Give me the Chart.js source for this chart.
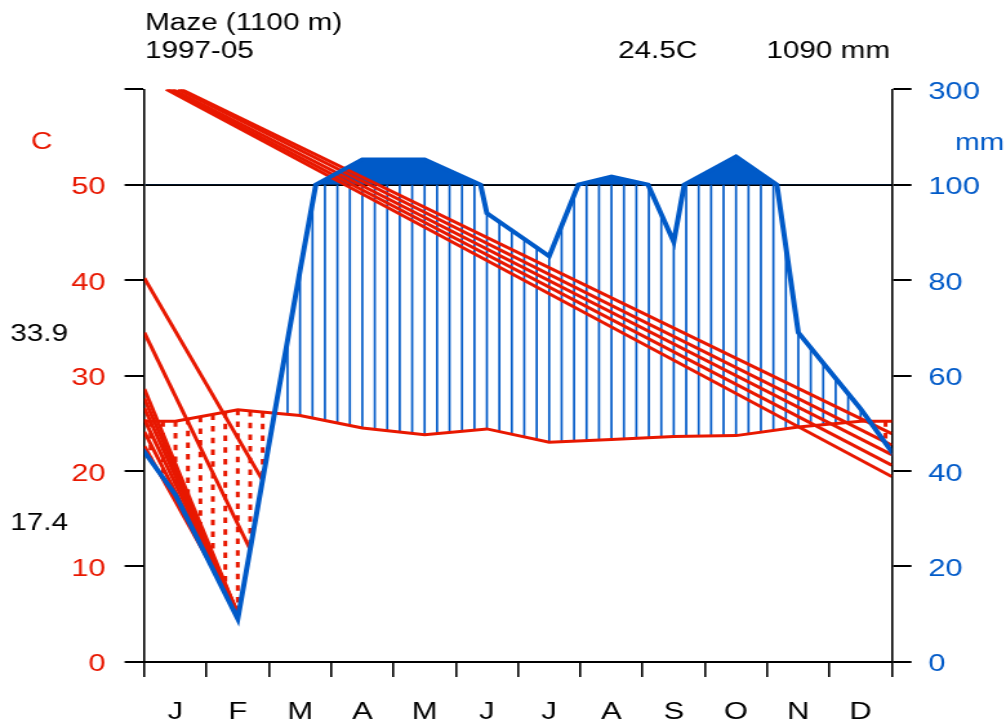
<!DOCTYPE html>
<html>
<head>
<meta charset="utf-8">
<script src="https://cdn.jsdelivr.net/npm/chart.js@4/dist/chart.umd.min.js"></script>
<style>
  html, body { margin: 0; padding: 0; background: #fff; overflow: hidden; }
  #wl { display: block; }
</style>
</head>
<body>
<!-- drawn narrow and stretched sideways, the way the original image was -->
<canvas id="wl" width="780" height="724" style="width:1006px;height:724px"></canvas>
<script>
// monthly means
const months = ["J", "F", "M", "A", "M", "J", "J", "A", "S", "O", "N", "D"];
const tempC = [25.2, 26.4, 25.8, 24.5, 23.8, 24.4, 23.0, 23.3, 23.6, 23.7, 24.6, 25.2];
const precMm = [35, 9, 82, 153, 153, 94, 85, 117, 88, 159, 69, 53];
const station = "Maze (1100 m)";
const period = "1997-05";
const meanTemp = "24.5C";
const totalPrec = "1090 mm";
const sideMax = "33.9";
const sideMin = "17.4";
const leftTicks = [0, 10, 20, 30, 40, 50, 60];
const rightTickLabels = ["0", "20", "40", "60", "80", "100", "300"];

// stray red strokes of the original plot: [x0, y0, x1, y1] in months / deg C
const streakLong = [
    [0.59, 60, 12, 23.9],
    [0.54, 60, 12, 22.7],
    [0.45, 60, 12, 21.7],
    [0.39, 60, 12, 20.6],
    [0.35, 60, 12, 19.4]
];
const streakLeft = [
    [0, 40.2, 1.89, 19.1],
    [0, 34.5, 1.69, 11.9],
    [0, 28.6, 1.47, 5.5],
    [0, 27.6, 1.47, 5.5],
    [0, 26.6, 1.47, 5.5],
    [0, 25.4, 1.47, 5.5],
    [0, 24.1, 1.47, 5.5],
    [0, 22.6, 1.47, 5.5]
];

const RED = "rgb(232,24,0)";
const BLUE = "#005ac8";
const FONT = "'Liberation Sans', Arial, sans-serif";
const SX = 1006 / 780;

// mm -> degree scale (2 mm = 1 C, above 100 mm 20 mm = 1 C)
function pScale(p){
    return p <= 100 ? p / 2 : 50 + (p - 100) / 20;
}

// Dec put before Jan and Jan after Dec so the curves run to the frame
let xs = [-0.5];
months.forEach(function(m, i){ xs.push(i + 0.5); });
xs.push(12.5);
let tExt = [tempC[11]].concat(tempC, [tempC[0]]);
let pExt = [precMm[11]].concat(precMm, [precMm[0]]);

function at(arr, xv){
    for(let i = 1; i < xs.length; i++)
    {
        if(xv <= xs[i])
        {
            let f = (xv - xs[i-1]) / (xs[i] - xs[i-1]);
            return arr[i-1] + f * (arr[i] - arr[i-1]);
        }
    }
    return arr[arr.length-1];
}

let tempPts = xs.map(function(x, i){ return {x: x, y: tExt[i]}; });

// the scale changes at 100 mm, so break the line there
let precPts = [];
for(let i = 0; i < xs.length; i++)
{
    if(i > 0)
    {
        let a = pExt[i-1], b = pExt[i];
        if((a - 100) * (b - 100) < 0)
        {
            let f = (100 - a) / (b - a);
            precPts.push({x: xs[i-1] + f * (xs[i] - xs[i-1]), y: 50});
        }
    }
    precPts.push({x: xs[i], y: pScale(pExt[i])});
}

function streakSet(s){
    return {
        data: [{x: s[0], y: s[1]}, {x: s[2], y: s[3]}],
        borderColor: RED, borderWidth: 3, pointRadius: 0,
        fill: false, clip: 0, order: 2
    };
}

// vertical hatching: blue where wet, red dots where dry
const hatch = {
    id: "hatch",
    beforeDatasetsDraw(chart){
        let ctx = chart.ctx, area = chart.chartArea;
        let sx = chart.scales.x, sy = chart.scales.y;
        ctx.save();
        ctx.beginPath();
        ctx.rect(area.left, area.top, area.right - area.left, area.bottom - area.top);
        ctx.clip();
        for(let k = 0; k < 60; k++)
        {
            let xv = 0.1 + 0.2 * k;
            let t = at(tExt, xv);
            let p = pScale(at(pExt, xv));
            let px = sx.getPixelForValue(xv);
            ctx.beginPath();
            if(p > t)
            {
                ctx.setLineDash([]);
                ctx.strokeStyle = BLUE;
                ctx.lineWidth = 1.7;
                ctx.moveTo(px, sy.getPixelForValue(t));
                ctx.lineTo(px, sy.getPixelForValue(Math.min(p, 50)));
            }
            else
            {
                ctx.setLineDash([5.5, 6.2]);
                ctx.strokeStyle = RED;
                ctx.lineWidth = 3;
                ctx.moveTo(px, sy.getPixelForValue(t));
                ctx.lineTo(px, sy.getPixelForValue(p));
            }
            ctx.stroke();
        }
        ctx.restore();
    }
};

const texts = {
    id: "texts",
    afterDraw(chart){
        let ctx = chart.ctx;
        ctx.save();
        ctx.textBaseline = "alphabetic";
        ctx.font = "23px " + FONT;
        ctx.fillStyle = "#000";
        ctx.textAlign = "left";
        ctx.fillText(station, 145 / SX, 30);
        ctx.fillText(period, 145 / SX, 58);
        ctx.fillText(meanTemp, 618 / SX, 58);
        ctx.textAlign = "right";
        ctx.fillText(totalPrec, 890 / SX, 58);
        ctx.fillText(sideMax, 68 / SX, 341);
        ctx.fillText(sideMin, 68 / SX, 530);
        ctx.textAlign = "left";
        ctx.fillStyle = RED;
        ctx.fillText("C", 31 / SX, 149);
        ctx.fillStyle = BLUE;
        ctx.fillText("mm", 955 / SX, 150);
        ctx.restore();
    }
};

new Chart(document.getElementById("wl"), {
    type: "line",
    data: {
        datasets: [
            {
                data: precPts, borderColor: BLUE, borderWidth: 4, pointRadius: 0,
                fill: {target: {value: 50}, above: BLUE, below: "rgba(0,0,0,0)"},
                clip: 0, order: 0
            },
            {
                data: tempPts, borderColor: RED, borderWidth: 3, pointRadius: 0,
                fill: false, clip: 0, order: 1
            }
        ].concat(streakLong.map(streakSet), streakLeft.map(streakSet))
    },
    options: {
        responsive: false,
        animation: false,
        devicePixelRatio: 1,
        layout: {padding: {top: 89.3, left: 0, right: 0, bottom: 0}},
        elements: {line: {tension: 0}, point: {radius: 0}},
        plugins: {
            legend: {display: false},
            tooltip: {enabled: false},
            filler: {drawTime: "beforeDatasetsDraw"}
        },
        scales: {
            x: {
                type: "linear", min: 0, max: 12,
                afterFit: function(s){ s.height = 62.3; },
                ticks: {
                    stepSize: 1, autoSkip: false, maxRotation: 0,
                    callback: function(v){ return months[v] || ""; },
                    labelOffset: 24.15, padding: 21, color: "#000",
                    font: {family: FONT, size: 24}
                },
                grid: {drawOnChartArea: false, tickLength: 15.3, color: "#000", lineWidth: 1.6},
                border: {color: "#000", width: 2}
            },
            y: {
                position: "left", min: 0, max: 60,
                afterFit: function(s){ s.width = 111.9; },
                ticks: {
                    stepSize: 10,
                    callback: function(v){ return v === 60 ? "" : String(v); },
                    color: RED, padding: 14.7, labelOffset: 3,
                    font: {family: FONT, size: 24}
                },
                grid: {
                    color: function(c){ return c.tick && c.tick.value === 50 ? "#000" : "rgba(0,0,0,0)"; },
                    tickColor: "#000", tickLength: 15.3, lineWidth: 2
                },
                border: {color: "#000", width: 1.6}
            },
            y2: {
                position: "right", min: 0, max: 60,
                afterFit: function(s){ s.width = 780 - 691.4; },
                ticks: {
                    stepSize: 10,
                    callback: function(v){ return rightTickLabels[leftTicks.indexOf(v)]; },
                    color: BLUE, padding: 13, labelOffset: 3,
                    font: {family: FONT, size: 24}
                },
                grid: {drawOnChartArea: false, tickLength: 15.3, color: "#000", lineWidth: 2},
                border: {color: "#000", width: 1.6}
            }
        }
    },
    plugins: [hatch, texts]
});
</script>
</body>
</html>
